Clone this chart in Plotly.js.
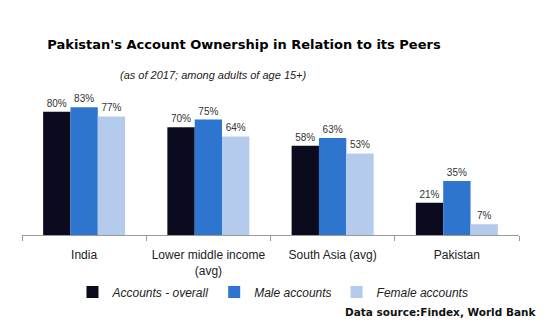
<!DOCTYPE html>
<html>
<head>
<meta charset="utf-8">
<script src="https://cdn.plot.ly/plotly-3.0.1.min.js"></script>
<style>html,body{margin:0;padding:0;background:#fff;}#chart{width:547px;height:330px;}</style>
</head>
<body>
<div id="chart"></div>
<script>
var categories = ["India", "Lower middle income<br>(avg)", "South Asia (avg)", "Pakistan"];
var overall = [80, 70, 58, 21];
var male = [83, 75, 63, 35];
var female = [77, 64, 53, 7];
var seriesNames = ["Accounts - overall", "Male accounts", "Female accounts"];
var colors = ["#0b0b1e", "#2e75cf", "#b5cbec"];
var seriesValues = [overall, male, female];

var traces = seriesValues.map(function (vals, i) {
  return {
    type: "bar",
    x: categories,
    y: vals,
    name: seriesNames[i],
    marker: {color: colors[i]},
    text: vals.map(function (v) { return v + "%"; }),
    textposition: "outside",
    textfont: {family: "Liberation Sans, Arial, sans-serif", size: 10, color: "#333"},
    cliponaxis: false,
    hoverinfo: "skip"
  };
});

var layout = {
  width: 547, height: 330,
  margin: {l: 22, r: 28, t: 81, b: 95},
  paper_bgcolor: "#fff", plot_bgcolor: "#fff",
  barmode: "group",
  bargap: 0.34,
  bargroupgap: 0,
  font: {family: "Liberation Sans, Arial, sans-serif", color: "#222"},
  title: {
    text: "<b>Pakistan's Account Ownership in Relation to its Peers</b>",
    font: {family: "DejaVu Sans, sans-serif", size: 13, color: "#000"},
    x: 0.446, xref: "container", xanchor: "center",
    y: 0.865, yref: "container", yanchor: "middle"
  },
  xaxis: {
    type: "category",
    range: [-0.5, 3.5],
    showline: true, linecolor: "#9a9a9a", linewidth: 1,
    ticks: "outside", tickson: "boundaries", ticklen: 5, tickcolor: "#9a9a9a",
    ticklabelstandoff: 9,
    tickfont: {size: 12, color: "#222"},
    showgrid: false, zeroline: false, fixedrange: true
  },
  yaxis: {range: [0, 100], visible: false, fixedrange: true},
  showlegend: true,
  legend: {
    orientation: "h",
    x: 0.505, xanchor: "center",
    y: -0.37, yanchor: "middle",
    bgcolor: "rgba(0,0,0,0)",
    font: {size: 12, style: "italic", color: "#222"},
    itemwidth: 30,
    traceorder: "normal"
  },
  annotations: [
    {
      text: "<i>(as of 2017; among adults of age 15+)</i>",
      xref: "paper", yref: "paper", x: 0.385, y: 1.039,
      xanchor: "center", yanchor: "middle", showarrow: false,
      font: {size: 11, color: "#222"}
    },
    {
      text: "<b>Data source:Findex, World Bank</b>",
      xref: "paper", yref: "paper", x: 1.038, y: -0.5,
      xanchor: "right", yanchor: "middle", showarrow: false,
      font: {family: "DejaVu Sans, sans-serif", size: 10.5, color: "#111"}
    }
  ]
};

Plotly.newPlot("chart", traces, layout, {displayModeBar: false, staticPlot: true});
</script>
</body>
</html>
